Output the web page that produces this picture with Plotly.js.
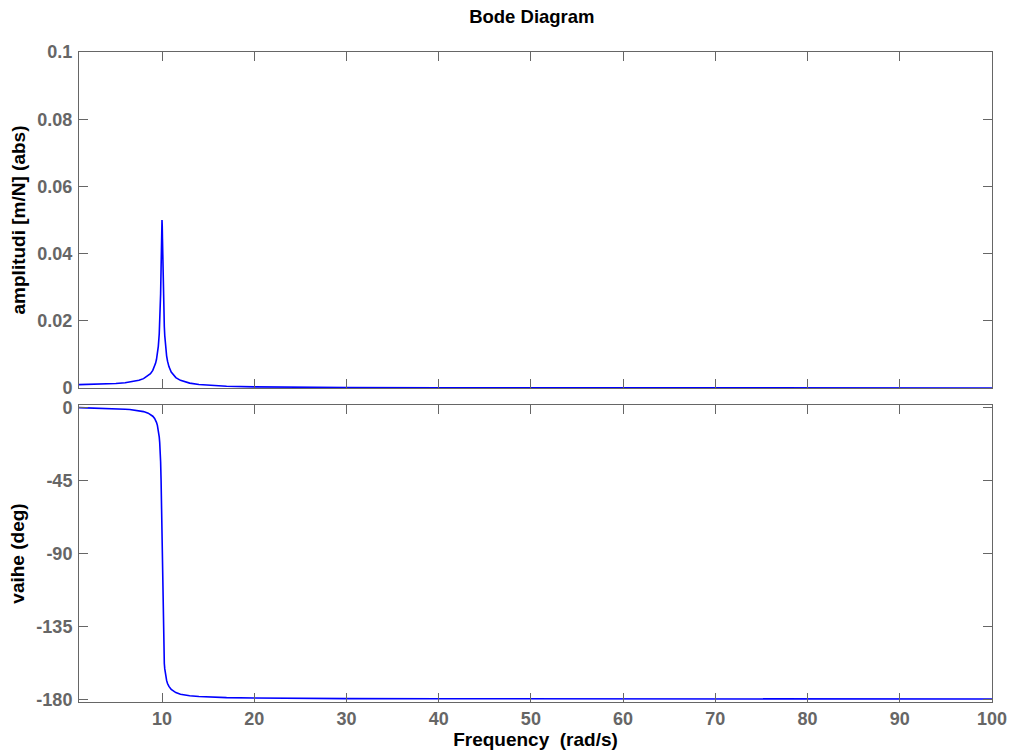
<!DOCTYPE html>
<html>
<head>
<meta charset="utf-8">
<script src="https://cdn.plot.ly/plotly-3.0.1.min.js"></script>
<style>html,body{margin:0;padding:0;background:#fff;}#chart{width:1014px;height:756px;}</style>
</head>
<body>
<div id="chart"></div>
<script>
// Frequency (rad/s)
const frequency = [1, 2, 3, 4, 5, 6, 6.5, 7, 7.5, 8, 8.5, 8.75, 9, 9.2, 9.25, 9.3, 9.4, 9.5, 9.6, 9.7, 9.75, 9.8, 9.85, 9.9, 9.925, 9.95, 9.975, 10,
  10.025, 10.05, 10.075, 10.1, 10.15, 10.2, 10.25, 10.3, 10.4, 10.5, 10.6, 10.75, 11, 11.5, 12, 12.5, 13, 14, 15, 17, 20, 25, 30, 40, 50, 60, 70, 80, 90, 100];
// Amplitude [m/N] (abs)
const amplitude = [0.00101, 0.001042, 0.001099, 0.00119, 0.001333, 0.001563, 0.001731, 0.001961, 0.002286, 0.002778, 0.003604, 0.004254, 0.00524, 0.006464, 0.00687, 0.007333, 0.00848, 0.01007, 0.01239, 0.01608, 0.01884, 0.02263, 0.02801, 0.03562, 0.04025, 0.04492, 0.04862, 0.05,
  0.04839, 0.04452, 0.03976, 0.03509, 0.02746, 0.0221, 0.01831, 0.01555, 0.01188, 0.00956, 0.007974, 0.00637, 0.004736, 0.003093, 0.002269, 0.001776, 0.001448, 0.001041, 0.0008, 0.000529, 0.000333, 0.00019, 0.000125, 0.0000667, 0.0000417, 0.0000286, 0.0000208, 0.0000159, 0.0000125, 0.0000101];
// Phase (deg)
const phase = [-0.12, -0.24, -0.38, -0.55, -0.76, -1.07, -1.29, -1.57, -1.96, -2.55, -3.51, -4.27, -5.41, -6.83, -7.30, -7.84, -9.17, -11.03, -13.76, -18.17, -21.55, -26.33, -33.49, -44.86, -53.03, -63.38, -75.95, -90,
  -104.0, -116.5, -126.8, -134.9, -146.1, -153.2, -157.95, -161.3, -165.7, -168.4, -170.3, -172.1, -174.0, -175.9, -176.9, -177.5, -177.8, -178.3, -178.6, -179.0, -179.2, -179.5, -179.6, -179.7, -179.76, -179.8, -179.83, -179.85, -179.87, -179.88];

const freqTicks = [10, 20, 30, 40, 50, 60, 70, 80, 90, 100];
const ampTicks = [0, 0.02, 0.04, 0.06, 0.08, 0.1];
const ampTickText = ['0', '0.02', '0.04', '0.06', '0.08', '0.1'];
const phaseTicks = [0, -45, -90, -135, -180];
const phaseTickText = ['0', '-45', '-90', '-135', '-180'];

const FONT = 'Liberation Sans, Arial, Helvetica, sans-serif';
const GRAY = '#666666';
const tickFont = {family: FONT, size: 18, color: GRAY, weight: 'bold'};
const titleFont = {family: FONT, size: 19, color: '#000', weight: 'bold'};

const axisCommon = {
  showline: true, linecolor: GRAY, linewidth: 1, mirror: 'ticks',
  ticks: 'inside', ticklen: 9, tickcolor: GRAY, tickwidth: 1,
  showgrid: false, zeroline: false, tickfont: tickFont
};

const traces = [
  {x: frequency, y: amplitude, type: 'scatter', mode: 'lines', xaxis: 'x', yaxis: 'y',
   line: {color: '#0000ff', width: 1.6}, hoverinfo: 'skip'},
  {x: frequency, y: phase, type: 'scatter', mode: 'lines', xaxis: 'x2', yaxis: 'y2',
   line: {color: '#0000ff', width: 1.6}, hoverinfo: 'skip'}
];

const layout = {
  width: 1014, height: 756,
  margin: {l: 79, r: 22, t: 52, b: 54},
  paper_bgcolor: '#fff', plot_bgcolor: '#fff',
  showlegend: false,
  title: {text: 'Bode Diagram', font: {family: FONT, size: 18.5, color: '#000', weight: 'bold'},
          x: 0.496, xanchor: 'center', xref: 'paper', y: 1 - 17/756, yanchor: 'middle', yref: 'container'},
  xaxis: Object.assign({}, axisCommon, {domain: [0, 1], anchor: 'y', range: [1, 100], tickvals: freqTicks, showticklabels: false}),
  yaxis: Object.assign({}, axisCommon, {domain: [0.4831, 1], anchor: 'x', range: [0, 0.1], tickvals: ampTicks, ticktext: ampTickText,
    ticklabelstandoff: 2,
    title: {text: 'amplitudi [m/N] (abs)', font: titleFont, standoff: 6}}),
  xaxis2: Object.assign({}, axisCommon, {domain: [0, 1], anchor: 'y2', range: [1, 100], tickvals: freqTicks,
    ticklabelstandoff: 0,
    title: {text: 'Frequency&nbsp;&nbsp;(rad/s)', font: titleFont, standoff: 0}}),
  yaxis2: Object.assign({}, axisCommon, {domain: [0, 0.4569], anchor: 'x2', range: [-181.7, 1.5], tickvals: phaseTicks, ticktext: phaseTickText,
    ticklabelstandoff: 2,
    title: {text: 'vaihe (deg)', font: titleFont, standoff: 6}})
};

Plotly.newPlot('chart', traces, layout, {staticPlot: true, displayModeBar: false});
</script>
</body>
</html>
